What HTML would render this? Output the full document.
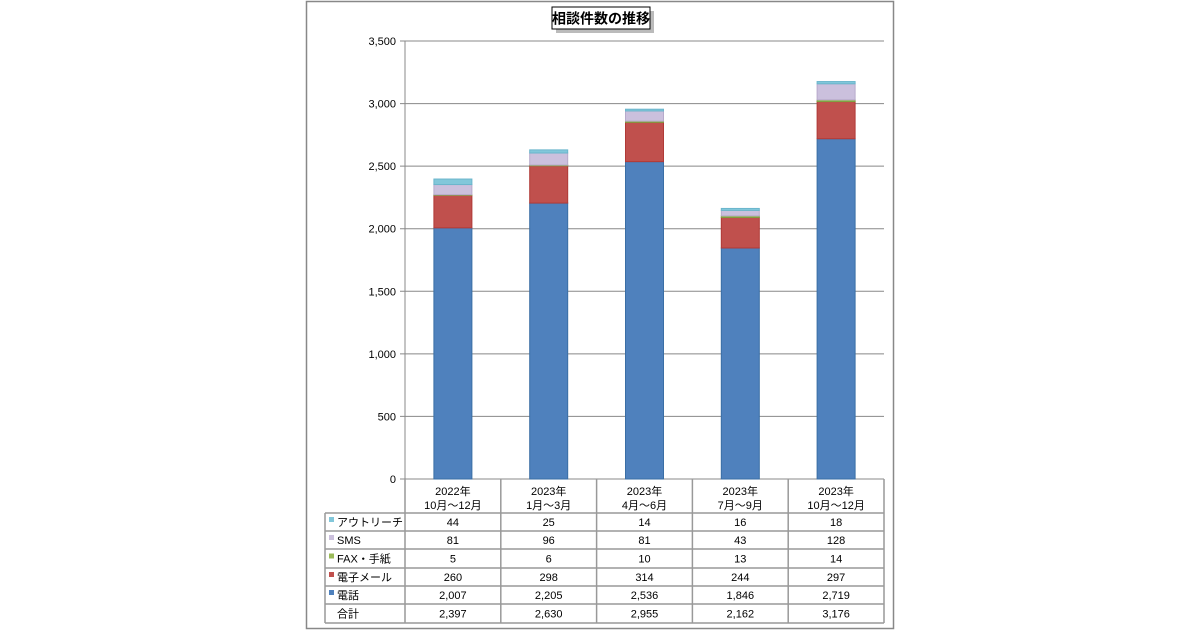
<!DOCTYPE html>
<html><head><meta charset="utf-8">
<style>
html,body{margin:0;padding:0;background:#fff;}
svg{display:block;font-family:"Liberation Sans","Noto Sans CJK JP",sans-serif;}
</style></head>
<body>
<svg id="chart" width="1200" height="630" viewBox="0 0 1200 630" xmlns="http://www.w3.org/2000/svg">
<rect x="306.5" y="1.5" width="587" height="627" fill="#fff" stroke="#888" stroke-width="1.5"/>
<g>
<rect x="554" y="9" width="98" height="22" fill="#bbb" transform="translate(2,2)"/>
<rect x="552" y="7" width="98" height="22" fill="#fff" stroke="#000" stroke-width="1"/>
<text x="601" y="23.5" text-anchor="middle" font-size="14" font-weight="bold" fill="#000">相談件数の推移</text>
</g>
<g id="grid"></g>
<g id="bars"></g>
<g id="table"></g>
</svg>
<script>
const categories1 = ["2022年","2023年","2023年","2023年","2023年"];
const categories2 = ["10月～12月","1月～3月","4月～6月","7月～9月","10月～12月"];
const seriesNames = ["アウトリーチ","SMS","FAX・手紙","電子メール","電話"];
const outreach = [44,25,14,16,18];
const sms = [81,96,81,43,128];
const fax = [5,6,10,13,14];
const email = [260,298,314,244,297];
const phone = [2007,2205,2536,1846,2719];
const yTicks = [0,500,1000,1500,2000,2500,3000,3500];
const yTickLabels = ["0","500","1,000","1,500","2,000","2,500","3,000","3,500"];

const NS="http://www.w3.org/2000/svg";
const plotL=405, plotR=884, plotT=41, plotB=479, yMax=3500;
const colW=(plotR-plotL)/categories1.length;
const barW=38;
function y(v){return plotB-(v/yMax)*(plotB-plotT);}
function xc(i){return plotL+colW*(i+0.5);}
function mk(tag,attrs,parent,text){const e=document.createElementNS(NS,tag);for(const k in attrs)e.setAttribute(k,attrs[k]);if(text!==undefined)e.textContent=text;parent.appendChild(e);return e;}
function fmt(n){return n.toLocaleString('en-US');}

const grid=document.getElementById('grid');
yTicks.forEach((t,i)=>{
  const l=mk('line',{x1:plotL-5,x2:plotR,y1:y(t),y2:y(t),stroke:i===0?'#888':'#888','stroke-width':1},grid);
  
  
  const tx=mk('text',{x:plotL-9,y:y(t)+4,'text-anchor':'end','font-size':11,fill:'#000'},grid,yTickLabels[i]);
  
  
});
const ax=mk('line',{x1:plotL,x2:plotL,y1:plotT,y2:plotB,stroke:'#888','stroke-width':1},grid);



const series=[phone,email,fax,sms,outreach];
const fills=['#4f81bd','#c0504d','#9bbb59','#cbc0dd','#82c7da'];
const strokes=['#3a6ea5','#b03a37','#7fa040','#b7aacb','#6bb6cc'];
const sNames=['phone','email','fax','sms','outreach'];
const bars=document.getElementById('bars');
categories1.forEach((c,i)=>{
  let cum=0;
  series.forEach((s,k)=>{
    const y0=y(cum), y1=y(cum+s[i]);
    cum+=s[i];
    const r=mk('rect',{x:xc(i)-barW/2,y:y1,width:barW,height:Math.max(0,y0-y1),fill:fills[k],stroke:strokes[k],'stroke-width':1},bars);
    
    
  });
});

// table
const tb=document.getElementById('table');
const tL=325, rows=[479,513,531,549,568,586,604,623];
const colX=[plotL,plotL+colW,plotL+2*colW,plotL+3*colW,plotL+4*colW,plotR];
const lc='#999';
// header vertical lines
colX.forEach(x=>{const l=mk('line',{x1:x,x2:x,y1:rows[0],y2:rows[7],stroke:lc,'stroke-width':1.5},tb);});
const lv=mk('line',{x1:tL,x2:tL,y1:rows[1],y2:rows[7],stroke:lc,'stroke-width':1.5},tb);


for(let r=1;r<8;r++){const l=mk('line',{x1:tL,x2:plotR,y1:rows[r],y2:rows[r],stroke:lc,'stroke-width':1.5},tb);}
categories1.forEach((c,i)=>{
  const t1=mk('text',{x:xc(i),y:495,'text-anchor':'middle','font-size':11,fill:'#000'},tb,c);
  
  
  const t2=mk('text',{x:xc(i),y:509,'text-anchor':'middle','font-size':11,fill:'#000'},tb,categories2[i]);
  
  
});
const rowSeries=[outreach,sms,fax,email,phone];
const rowFill=['#82c7da','#cbc0dd','#9bbb59','#c0504d','#4f81bd'];
const rowNames=['outreach','sms','fax','email','phone'];
rowSeries.forEach((s,r)=>{
  const cy=(rows[r+1]+rows[r+2])/2;
  const sw=mk('rect',{x:tL+4,y:cy-5,width:5,height:5,fill:rowFill[r]},tb);
  
  
  const lt=mk('text',{x:tL+12,y:cy+4,'font-size':11,fill:'#000'},tb,seriesNames[r]);
  
  
  s.forEach((v,i)=>{
    const t=mk('text',{x:xc(i),y:cy+4,'text-anchor':'middle','font-size':11,fill:'#000'},tb,fmt(v));
    
    
  });
});
const cyT=(rows[6]+rows[7])/2;
const tl=mk('text',{x:tL+12,y:cyT+4,'font-size':11,fill:'#000'},tb,'合計');


categories1.forEach((c,i)=>{
  const tot=outreach[i]+sms[i]+fax[i]+email[i]+phone[i];
  const t=mk('text',{x:xc(i),y:cyT+4,'text-anchor':'middle','font-size':11,fill:'#000'},tb,fmt(tot));
  
  
});
</script>
</body></html>
